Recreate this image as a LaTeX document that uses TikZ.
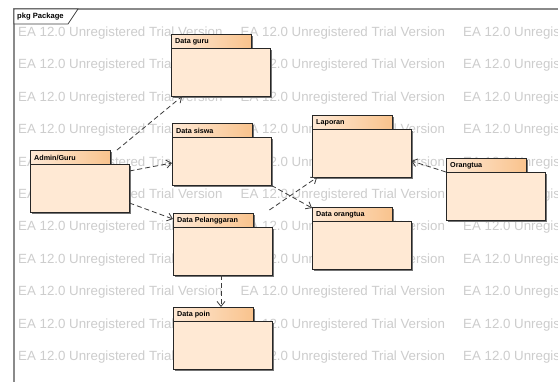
\documentclass[tikz,border=0pt]{standalone}
\usepackage{fontspec}
\setmainfont{Liberation Sans}
\usetikzlibrary{arrows.meta}

\definecolor{pkgbody}{HTML}{FFE9D4}
\definecolor{tableft}{HTML}{FEE9D6}
\definecolor{tabright}{HTML}{F9C38D}
\definecolor{wmark}{HTML}{CDCDCD}
\definecolor{framegray}{HTML}{8A8A8A}
\definecolor{linegray}{HTML}{3C3C3C}

\tikzset{
  pkgline/.style={draw=black!85, line width=0.8pt},
  pkgshadow/.style={fill=black!55},
  bbox/.style={draw=none, inner sep=0pt, minimum width=99pt, minimum height=62pt, anchor=north west},
  dep/.style={draw=linegray, line width=0.8pt, dash pattern=on 5pt off 3pt,
              -{Straight Barb[length=5pt,width=8pt]}},
  pkgtitle/.style={font=\bfseries\fontsize{7.2}{8}\selectfont, anchor=west, inner sep=0pt},
  watermark/.style={font=\fontsize{13.3}{14}\selectfont, text=wmark, anchor=west, inner sep=0pt},
}

% UML package: name, left, top, title
\newcommand\umlpkg[4]{%
  \node[bbox] (#1) at (#2,#3) {};
  \fill[pkgshadow] (#2+2,#3+2) rectangle (#2+81.5,#3+16);
  \fill[pkgshadow] (#2+2,#3+16) rectangle (#2+101,#3+64);
  \shadedraw[left color=tableft, right color=tabright, pkgline] (#2,#3) rectangle (#2+80,#3+14.5);
  \filldraw[fill=pkgbody, pkgline] (#2,#3+14.5) rectangle (#2+99,#3+62);
  \node[pkgtitle] at (#2+4,#3+7.5) {#4};
}

\begin{document}
\begin{tikzpicture}[x=1pt, y=-1pt]
\useasboundingbox (0,0) rectangle (558,381);
\fill[white] (0,0) rectangle (558,381);

\begin{scope}
  \clip (0,0) rectangle (558,381);
  % trial watermark
  \foreach \k in {0,...,10} {
    \foreach \c in {18,240.5,463} {
      \node[watermark] at (\c, 33+32.4*\k) {EA 12.0 Unregistered Trial Version};
    }
  }
  % diagram frame
  \draw[framegray, line width=1.4pt] (14,400) -- (14,9) -- (600,9);
  \filldraw[fill=white, draw=black!75, line width=0.8pt] (14,9) -- (14,24) -- (68,24) -- (78,9) -- cycle;
  \node[pkgtitle, font=\bfseries\fontsize{7.6}{8}\selectfont] (frametitle) at (17,16.5) {pkg Package};
\end{scope}

% packages
\umlpkg{guru}{171}{34}{Data guru}
\umlpkg{siswa}{172}{123}{Data siswa}
\umlpkg{admin}{30}{150}{Admin/Guru}
\umlpkg{pel}{173}{213}{Data Pelanggaran}
\umlpkg{poin}{173}{307}{Data poin}
\umlpkg{laporan}{312}{115}{Laporan}
\umlpkg{ortu}{446}{158}{Orangtua}
\umlpkg{dortu}{312}{207}{Data orangtua}

% dependencies
\draw[dep] ([xshift=87pt]admin.north west) -- ([xshift=11pt]guru.south west);
\draw[dep] ([yshift=-21pt]admin.north east) -- ([yshift=-40pt]siswa.north west);
\draw[dep] ([yshift=-53pt]admin.north east) -- ([yshift=-6pt]pel.north west);
\draw[dep] (siswa.south east) -- ([yshift=-1pt]dortu.north west);
\draw[dep] ([xshift=-3pt,yshift=3pt]pel.north east) -- ([xshift=5pt]laporan.south west);
\draw[dep] ([yshift=-14pt]ortu.north west) -- ([yshift=-46pt]laporan.north east);
\draw[dep] ([xshift=48pt]pel.south west) -- ([xshift=48pt]poin.north west);
\end{tikzpicture}
\end{document}
